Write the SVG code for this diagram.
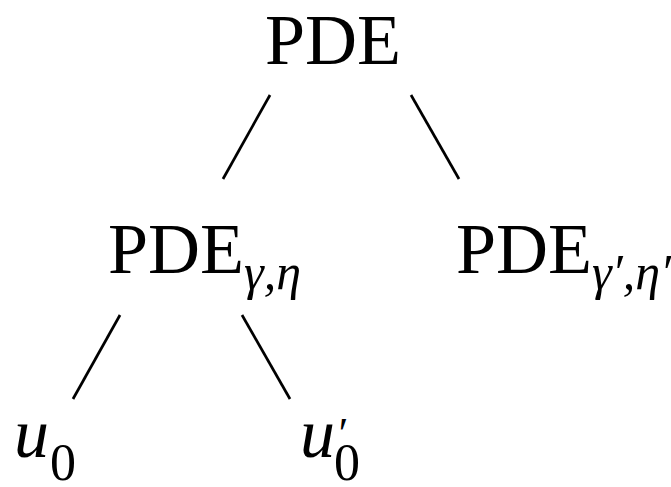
<svg xmlns="http://www.w3.org/2000/svg" width="671" height="487" viewBox="0 0 671 487">
<style>
text{font-family:"Liberation Serif","Times New Roman",serif;fill:#000}
.m{font-size:72px}
.s{font-size:50px;font-style:italic}
.u{font-size:70px;font-style:italic}
.d{font-size:52px;font-style:normal}
.p{font-size:44px;font-style:italic}
.e{stroke:#000;stroke-width:2.7;fill:none;stroke-linecap:butt}
</style>
<rect width="671" height="487" fill="#fff"/>
<g id="connectors">
<line class="e" x1="270" y1="95" x2="223" y2="179"/>
<line class="e" x1="411" y1="95" x2="459" y2="179"/>
<line class="e" x1="120" y1="315" x2="73" y2="399"/>
<line class="e" x1="242" y1="315" x2="290" y2="399"/>
</g>
<g id="pde"><text class="m" x="265" y="64">PDE</text></g>
<g id="pde-gamma-eta"><text class="m" x="108" y="273">PDE<tspan class="s" dy="16">γ,η</tspan></text></g>
<g id="pde-gamma-eta-prime"><text class="m" x="456" y="273">PDE<tspan class="s" dy="16">γ′,η′</tspan></text></g>
<g id="u0"><text class="u" x="14" y="457">u<tspan class="d" x="50" y="480">0</tspan></text></g>
<g id="u0-prime"><text class="u" x="300" y="457">u<tspan class="d" x="334" y="480">0</tspan><tspan class="p" x="336" y="448">′</tspan></text></g>
</svg>
